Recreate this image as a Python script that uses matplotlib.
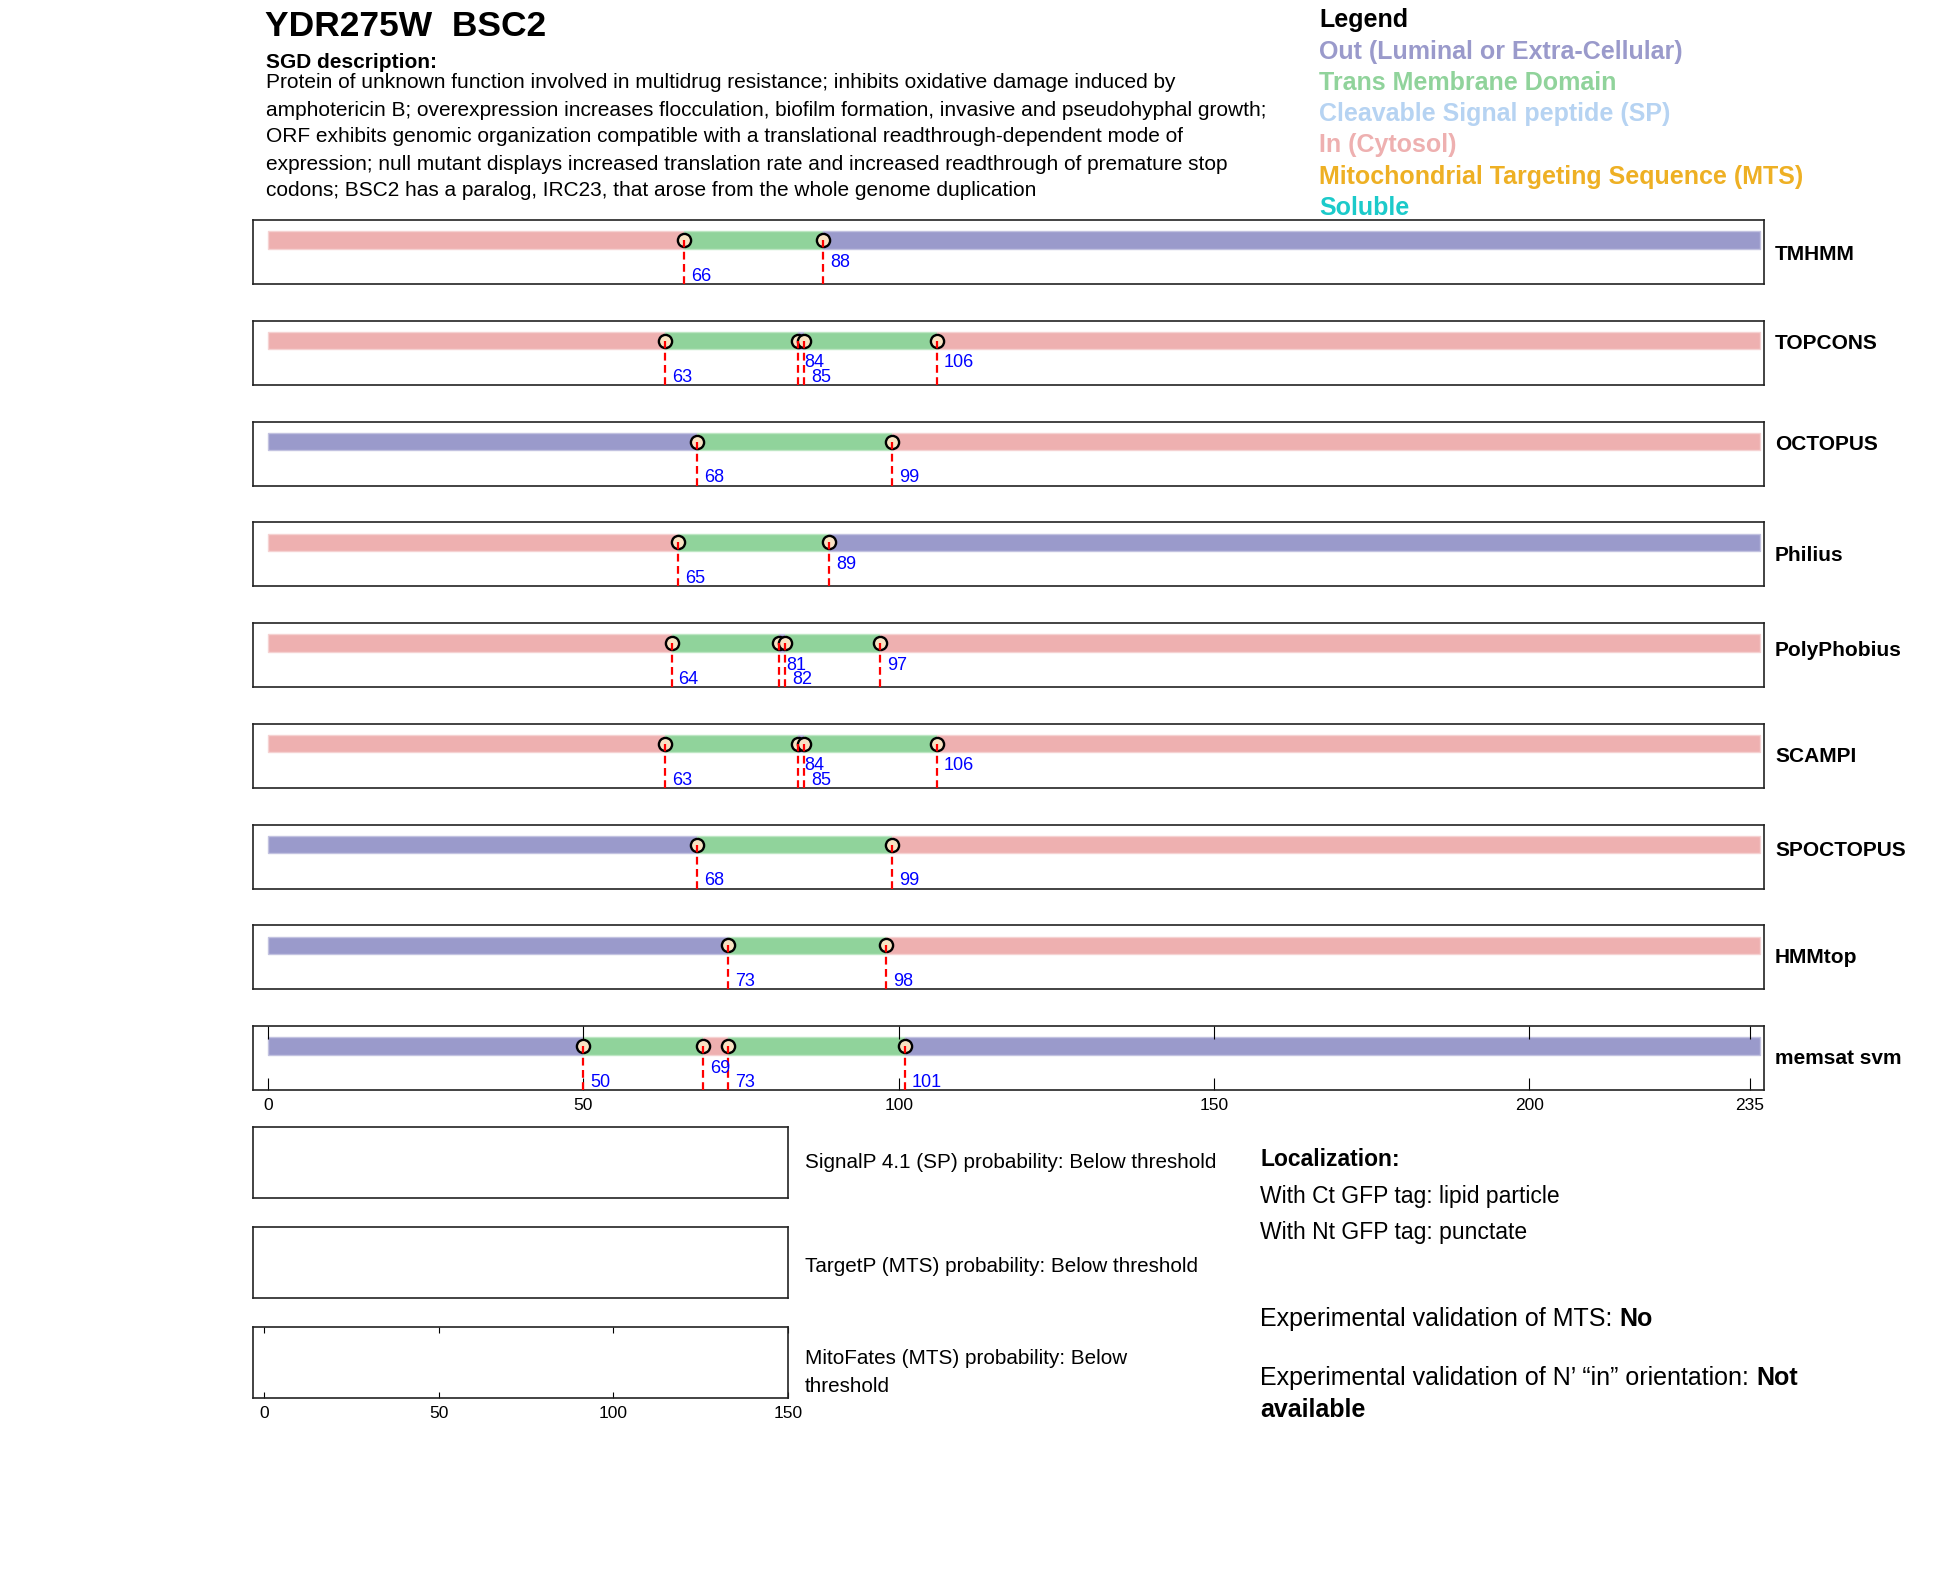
import matplotlib
matplotlib.use('Agg')
import matplotlib.pyplot as plt

plt.rcParams['font.family'] = ['Liberation Sans', 'DejaVu Sans']

# ---- data ----
gene_title = 'YDR275W  BSC2'
description_lines = [
    'Protein of unknown function involved in multidrug resistance; inhibits oxidative damage induced by',
    'amphotericin B; overexpression increases flocculation, biofilm formation, invasive and pseudohyphal growth;',
    'ORF exhibits genomic organization compatible with a translational readthrough-dependent mode of',
    'expression; null mutant displays increased translation rate and increased readthrough of premature stop',
    'codons; BSC2 has a paralog, IRC23, that arose from the whole genome duplication',
]
protein_length = 235

legend_names = ['Out (Luminal or Extra-Cellular)', 'Trans Membrane Domain',
                'Cleavable Signal peptide (SP)', 'In (Cytosol)',
                'Mitochondrial Targeting Sequence (MTS)', 'Soluble']
legend_colors = ['#9a9acb', '#90d39b', '#b6d3f2', '#eeb0b0', '#eeb024', '#1ccaca']
type_colors = {'out': '#9a9acb', 'tm': '#90d39b', 'sp': '#b6d3f2', 'in': '#eeb0b0'}
type_edges = {'out': '#c2c2e0', 'tm': '#bde6c3', 'sp': '#d6e6f8', 'in': '#f5d2d2'}

predictors = ['TMHMM', 'TOPCONS', 'OCTOPUS', 'Philius', 'PolyPhobius',
              'SCAMPI', 'SPOCTOPUS', 'HMMtop', 'memsat svm']
# boundaries (residue positions) and topology of each segment
boundaries = [
    [66, 88],
    [63, 84, 85, 106],
    [68, 99],
    [65, 89],
    [64, 81, 82, 97],
    [63, 84, 85, 106],
    [68, 99],
    [73, 98],
    [50, 69, 73, 101],
]
segment_types = [
    ['in', 'tm', 'out'],
    ['in', 'tm', 'out', 'tm', 'in'],
    ['out', 'tm', 'in'],
    ['in', 'tm', 'out'],
    ['in', 'tm', 'out', 'tm', 'in'],
    ['in', 'tm', 'out', 'tm', 'in'],
    ['out', 'tm', 'in'],
    ['out', 'tm', 'in'],
    ['out', 'tm', 'in', 'tm', 'out'],
]
# which boundary labels sit on the upper row
label_raised = [
    [0, 1],
    [0, 1, 0, 1],
    [0, 0],
    [0, 1],
    [0, 1, 0, 1],
    [0, 1, 0, 1],
    [0, 0],
    [0, 0],
    [0, 1, 0, 0],
]
axis_ticks = [0, 50, 100, 150, 200, 235]

prob_labels = ['SignalP 4.1 (SP) probability: Below threshold',
               'TargetP (MTS) probability: Below threshold',
               'MitoFates (MTS) probability: Below\nthreshold']
prob_ticks = [0, 50, 100, 150]

localization = ['With Ct GFP tag: lipid particle', 'With Nt GFP tag: punctate']
mts_validation = 'No'
orientation_validation = 'Not'

# ---- layout (pixels) ----
W, H = 1950, 1573
fig = plt.figure(figsize=(W / 100, H / 100), dpi=100)

# small vertical nudges of the predictor names (px, + is up)
name_nudge = [-2, 9, 9, -1, 5, -1, 6, 0, -1]


def add_box(left, top, width, height):
    return fig.add_axes([left / W, 1 - (top + height) / H, width / W, height / H])


def ftext(x, y, s, **kw):
    return fig.text(x / W, 1 - y / H, s, va='center', **kw)


def style_box(ax):
    for sp in ax.spines.values():
        sp.set_linewidth(1.2)
        sp.set_color('#222222')
    ax.set_yticks([])


# header
ftext(265, 26, gene_title, fontsize=25.5, fontweight='bold')
ftext(266, 63, 'SGD description:', fontsize=15, fontweight='bold')
for i, line in enumerate(description_lines):
    ftext(266, 83 + i * 27, line, fontsize=15)

ftext(1319, 20, 'Legend', fontsize=18, fontweight='bold')
for i, (name, col) in enumerate(zip(legend_names, legend_colors)):
    ftext(1319, 51.5 + i * 31.3, name, fontsize=18, fontweight='bold', color=col)

# predictor tracks
bar_y = 0.6875
for i, name in enumerate(predictors):
    ax = add_box(253, 220 + i * 100.75, 1511, 64)
    style_box(ax)
    ax.set_xlim(-2.38, 237.2)
    ax.set_ylim(0, 1)
    edges = [0] + boundaries[i] + [protein_length + 1.5]
    for j, t in enumerate(segment_types[i]):
        ax.barh(bar_y, edges[j + 1] - edges[j], left=edges[j], height=0.27,
                color=type_colors[t], edgecolor=type_edges[t], linewidth=1.0,
                zorder=1)
    for b, up in zip(boundaries[i], label_raised[i]):
        ax.plot(b, bar_y, 'o', ms=9.5, mfc='#f9e3c3', mec='black', mew=1.7, zorder=3)
        ax.plot([b, b], [0, bar_y], color='red', ls=(0, (3.5, 2)), lw=1.6, zorder=4)
        ax.annotate(str(b), (b, 0.34 if up else 0.12), xytext=(5, 0),
                    textcoords='offset points', color='blue', fontsize=13,
                    va='center', ha='left', zorder=5)
    ax.annotate(name, (1, 0.5), xycoords='axes fraction',
                xytext=(8, name_nudge[i] * 0.72), textcoords='offset points',
                va='center', fontsize=15, fontweight='bold')
    if i == len(predictors) - 1:
        ax.set_xticks(axis_ticks)
        ax.tick_params(axis='x', direction='in', length=9, top=True,
                       labelsize=12.5, pad=6, width=0.8)
    else:
        ax.set_xticks([])

# probability boxes
label_nudge = [0, -4, -10]
for i, lab in enumerate(prob_labels):
    ax = add_box(253, 1127 + i * 100, 535, 71)
    style_box(ax)
    ax.set_xlim(-3.15, 150)
    ax.set_ylim(0, 1)
    if i == len(prob_labels) - 1:
        ax.set_xticks(prob_ticks)
        ax.tick_params(axis='x', direction='in', length=4, top=True,
                       labelsize=12.5, pad=6, width=0.8)
    else:
        ax.set_xticks([])
    ax.annotate(lab, (1, 0.5), xycoords='axes fraction',
                xytext=(12, label_nudge[i] * 0.72), textcoords='offset points',
                va='center', fontsize=14.9, linespacing=1.55)

# localization block
ftext(1260, 1160, 'Localization:', fontsize=16.5, fontweight='bold')
for i, line in enumerate(localization):
    ftext(1260, 1196 + i * 37, line, fontsize=16.5)

renderer = fig.canvas.get_renderer()


def mixed(x, y, regular, bold, size):
    t = ftext(x, y, regular, fontsize=size)
    bb = t.get_window_extent(renderer=renderer)
    ftext(bb.x1, y, bold, fontsize=size, fontweight='bold')


mixed(1260, 1319, 'Experimental validation of MTS: ', mts_validation, 18)
mixed(1260, 1378, 'Experimental validation of N\u2019 \u201cin\u201d orientation: ',
      orientation_validation, 18)
ftext(1260, 1410, 'available', fontsize=18, fontweight='bold')

fig.savefig('out.png', dpi=100)
